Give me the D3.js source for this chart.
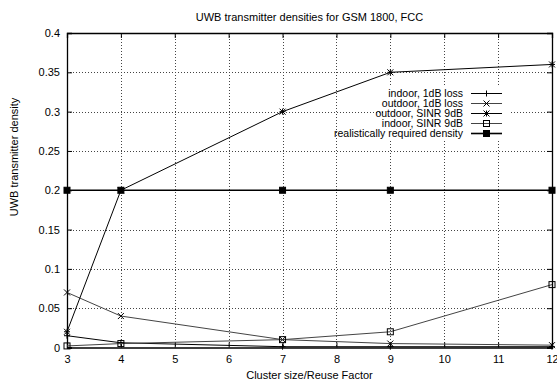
<!DOCTYPE html>
<html>
<head>
<meta charset="utf-8">
<script src="https://cdn.jsdelivr.net/npm/d3@7"></script>
<style>
  body { margin: 0; background: #fff; }
  text { font-family: "Liberation Sans", Arial, sans-serif; fill: #000; }
</style>
</head>
<body>
<div id="chart"></div>
<script>
/*** DATA ***/
const clusterSizes = [3, 4, 7, 9, 12];
const indoor1dB = [0.015, 0.006, 0.001, 0.001, 0.001];
const outdoor1dB = [0.07, 0.04, 0.01, 0.005, 0.003];
const outdoorSinr = [0.02, 0.2, 0.3, 0.35, 0.36];
const indoorSinr = [0.002, 0.005, 0.01, 0.02, 0.08];
const realistic = [0.2, 0.2, 0.2, 0.2, 0.2];
const seriesNames = ["indoor, 1dB loss", "outdoor, 1dB loss", "outdoor, SINR 9dB", "indoor, SINR 9dB", "realistically required density"];
const xTicks = [3, 4, 5, 6, 7, 8, 9, 10, 11, 12];
const yTicks = [0, 0.05, 0.1, 0.15, 0.2, 0.25, 0.3, 0.35, 0.4];

/*** GRAPH ***/
const width = 557, height = 380;
const margin = {top: 33, right: 5, bottom: 32.5, left: 67};

const svg = d3.select("#chart").append("svg")
    .attr("width", width)
    .attr("height", height);

const x = d3.scaleLinear().domain([3, 12]).range([margin.left, width - margin.right]);
const y = d3.scaleLinear().domain([0, 0.4]).range([height - margin.bottom, margin.top]);

// grid
svg.append("g").selectAll("line").data(xTicks.slice(1, -1)).enter().append("line")
    .attr("x1", d => Math.round(x(d)) + 0.5).attr("x2", d => Math.round(x(d)) + 0.5)
    .attr("y1", y(0.4)).attr("y2", y(0))
    .attr("stroke", "#444").attr("stroke-dasharray", "1,2").attr("stroke-width", 1);
svg.append("g").selectAll("line").data(yTicks.slice(1, -1)).enter().append("line")
    .attr("x1", x(3)).attr("x2", x(12))
    .attr("y1", d => Math.round(y(d)) + 0.5).attr("y2", d => Math.round(y(d)) + 0.5)
    .attr("stroke", "#444").attr("stroke-dasharray", "1,2").attr("stroke-width", 1);

// legend background blanks the grid
svg.append("rect").attr("x", 384).attr("y", 86).attr("width", 126).attr("height", 54).attr("fill", "#fff");

// axes (ticks inward, mirrored)
const tickLen = 5;
svg.append("g").attr("transform", "translate(0," + y(0) + ")")
    .call(d3.axisBottom(x).tickValues(xTicks).tickSize(-tickLen).tickPadding(8).tickFormat(d3.format("d")));
svg.append("g").attr("transform", "translate(0," + y(0.4) + ")")
    .call(d3.axisTop(x).tickValues(xTicks).tickSize(-tickLen).tickFormat(""));
svg.append("g").attr("transform", "translate(" + x(3) + ",0)")
    .call(d3.axisLeft(y).tickValues(yTicks).tickSize(-tickLen).tickPadding(7).tickFormat(d => d3.format("")(+d.toFixed(2))));
svg.append("g").attr("transform", "translate(" + x(12) + ",0)")
    .call(d3.axisRight(y).tickValues(yTicks).tickSize(-tickLen).tickFormat(""));
svg.selectAll(".domain").attr("stroke", "#000").attr("stroke-width", 1.3);
svg.selectAll(".tick line").attr("stroke", "#000");
svg.selectAll(".tick text").attr("font-size", "11px").attr("font-family", "Liberation Sans, Arial, sans-serif");

// titles
svg.append("text").attr("x", (x(3) + x(12)) / 2).attr("y", 21)
    .attr("text-anchor", "middle").attr("font-size", "11px")
    .text("UWB transmitter densities for GSM 1800, FCC");
svg.append("text").attr("x", (x(3) + x(12)) / 2).attr("y", 379)
    .attr("text-anchor", "middle").attr("font-size", "11px")
    .text("Cluster size/Reuse Factor");
svg.append("text").attr("transform", "translate(18,157) rotate(-90)")
    .attr("text-anchor", "middle").attr("font-size", "11px")
    .text("UWB transmitter density");

/*** MARKERS ***/
function drawMarker(g, type, cx, cy) {
    const s = 3;
    if (type === "plus" || type === "star") {
        g.append("path").attr("d", "M" + (cx - s) + "," + cy + "H" + (cx + s) + "M" + cx + "," + (cy - s) + "V" + (cy + s))
            .attr("stroke", "#000").attr("fill", "none");
    }
    if (type === "cross" || type === "star") {
        g.append("path").attr("d", "M" + (cx - s) + "," + (cy - s) + "L" + (cx + s) + "," + (cy + s) + "M" + (cx - s) + "," + (cy + s) + "L" + (cx + s) + "," + (cy - s))
            .attr("stroke", "#000").attr("fill", "none");
    }
    if (type === "box" || type === "fbox") {
        g.append("rect").attr("x", cx - s).attr("y", cy - s).attr("width", 2 * s).attr("height", 2 * s)
            .attr("stroke", "#000").attr("fill", type === "fbox" ? "#000" : "none");
    }
}

const series = [
    {name: seriesNames[0], values: indoor1dB, marker: "plus", color: "#000"},
    {name: seriesNames[1], values: outdoor1dB, marker: "cross", color: "#444"},
    {name: seriesNames[2], values: outdoorSinr, marker: "star", color: "#000"},
    {name: seriesNames[3], values: indoorSinr, marker: "box", color: "#444"},
    {name: seriesNames[4], values: realistic, marker: "fbox", color: "#000"}
];

const line = d3.line().x(d => x(d[0])).y(d => y(d[1]));

series.forEach(function (s) {
    const pts = clusterSizes.map((c, i) => [c, s.values[i]]);
    const g = svg.append("g");
    g.append("path").attr("d", line(pts)).attr("fill", "none")
        .attr("stroke", s.color).attr("stroke-width", s.marker === "fbox" ? 1.6 : 1);
    pts.forEach(p => drawMarker(g, s.marker, x(p[0]), y(p[1])));
});

/*** LEGEND ***/
const legend = svg.append("g");
series.forEach(function (s, i) {
    const ly = 93.5 + i * 10;
    legend.append("text").attr("x", 463).attr("y", ly + 3.5)
        .attr("text-anchor", "end").attr("font-size", "10.5px").text(s.name);
    legend.append("line").attr("x1", 471).attr("x2", 502).attr("y1", ly).attr("y2", ly)
        .attr("stroke", s.color).attr("stroke-width", s.marker === "fbox" ? 1.6 : 1);
    drawMarker(legend, s.marker, 486.5, ly);
});
</script>
</body>
</html>
